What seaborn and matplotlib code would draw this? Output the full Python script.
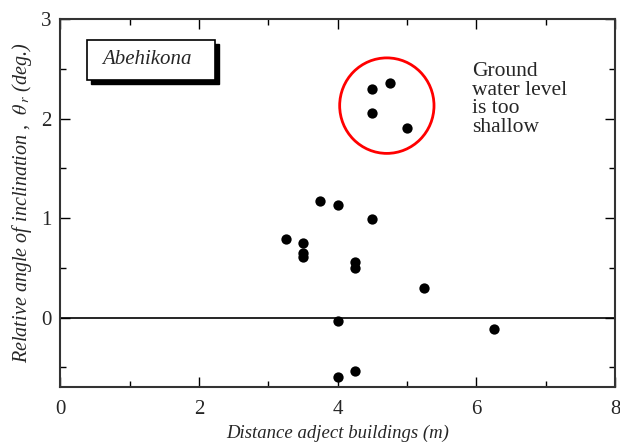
import matplotlib
matplotlib.use("Agg")
import matplotlib.pyplot as plt
from matplotlib.patches import Ellipse, Rectangle
from matplotlib.ticker import MultipleLocator
import seaborn as sns
import pandas as pd

distance = [4.5, 4.75, 4.5, 5.0, 3.75, 4.0, 4.5, 3.25, 3.5, 3.5, 3.5, 4.25, 4.25, 5.25, 4.0, 6.25, 4.0, 4.25]
angle = [2.30, 2.36, 2.06, 1.91, 1.17, 1.13, 0.99, 0.79, 0.75, 0.65, 0.61, 0.56, 0.50, 0.30, -0.03, -0.12, -0.60, -0.54]
site_label = "Abehikona"
note_text = "Ground\nwater level\nis too\nshallow"

df = pd.DataFrame({"distance": distance, "angle": angle})

sns.set_theme(style="white")
plt.rcParams['font.family'] = ['Liberation Serif', 'DejaVu Serif']
plt.rcParams['mathtext.fontset'] = 'stix'

fig = plt.figure(figsize=(6.2, 4.44), dpi=100)
ax = fig.add_axes([0.097, 0.128, 0.895, 0.829])

sns.scatterplot(data=df, x="distance", y="angle", ax=ax, color="black",
                s=55, edgecolor="black", linewidth=0, legend=False, zorder=3)

ax.axhline(0, color="black", lw=1.2, zorder=2)

ax.set_xlim(0, 8)
ax.set_ylim(-0.7, 3)
ax.xaxis.set_major_locator(MultipleLocator(2))
ax.xaxis.set_minor_locator(MultipleLocator(1))
ax.yaxis.set_major_locator(MultipleLocator(1))
ax.yaxis.set_minor_locator(MultipleLocator(0.5))
ax.tick_params(which="both", direction="in", top=True, right=True,
               bottom=True, left=True, color="black", labelsize=15)
ax.tick_params(which="major", length=7, width=1)
ax.tick_params(which="minor", length=4, width=1)
ax.tick_params(axis="x", which="major", pad=9)
ax.tick_params(axis="y", which="major", pad=6)
for s in ax.spines.values():
    s.set_color("#333333")
    s.set_linewidth(1.5)

ax.set_xlabel("Distance adject buildings (m)", fontsize=13.5, style="italic", labelpad=4)
ax.set_ylabel(r"Relative angle of inclination ,  $\theta_{\,r}$ (deg.)", fontsize=14.5,
              style="italic", labelpad=5)

ell = Ellipse((4.71, 2.13), width=1.36, height=0.96, fill=False,
              edgecolor="red", lw=2, zorder=4)
ax.add_patch(ell)

ax.text(5.94, 2.57, note_text, fontsize=15.5, va="top", ha="left", linespacing=0.98)

# label box with shadow (axes coordinates)
bx0, by0, bw, bh = 0.0486, 0.835, 0.2306, 0.109
dx, dy = 0.0072, -0.011
ax.add_patch(Rectangle((bx0 + dx, by0 + dy), bw, bh, transform=ax.transAxes,
                       fc="black", ec="black", lw=1, zorder=5))
ax.add_patch(Rectangle((bx0, by0), bw, bh, transform=ax.transAxes,
                       fc="white", ec="black", lw=1.2, zorder=6))
ax.text(bx0 + 0.027, by0 + bh / 2, site_label, transform=ax.transAxes,
        fontsize=15, style="italic", va="center", ha="left", zorder=7)

fig.savefig("out.png", dpi=100)
